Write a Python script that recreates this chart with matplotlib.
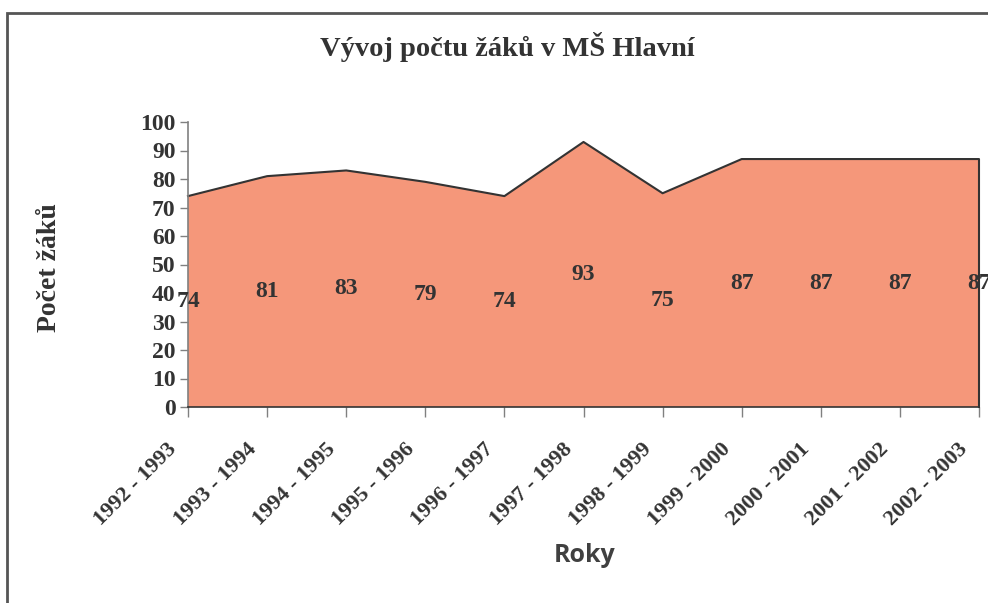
import matplotlib.pyplot as plt
from matplotlib.patches import Rectangle

years = ["1992 - 1993", "1993 - 1994", "1994 - 1995", "1995 - 1996", "1996 - 1997",
         "1997 - 1998", "1998 - 1999", "1999 - 2000", "2000 - 2001", "2001 - 2002",
         "2002 - 2003"]
pupils = [74, 81, 83, 79, 74, 93, 75, 87, 87, 87, 87]

serif = "Liberation Serif"
txt = "#333333"

fig = plt.figure(figsize=(9.88, 6.03), dpi=100)
ax = fig.add_axes([188 / 988, 1 - 407 / 603, (979 - 188) / 988, (407 - 122) / 603])

x = list(range(len(pupils)))
ax.fill_between(x, pupils, 0, facecolor="#F5977A", edgecolor="none")
# outline of the area (top line + right side)
ax.plot(x + [x[-1]], pupils + [0], color="#333333", lw=1.5, clip_on=False)

for i, v in zip(x, pupils):
    ax.text(i, v / 2, str(v), ha="center", va="center", fontsize=17,
            fontweight="bold", family=serif, color=txt)

ax.set_xlim(0, len(pupils) - 1)
ax.set_ylim(0, 100)
ax.set_yticks(range(0, 101, 10))
ax.set_xticks(x)
ax.set_xticklabels([])
# category labels drawn by hand so they sit left of the tick like in Excel
for i, lab in zip(x, years):
    ax.annotate(lab, (i, 0), xycoords=("data", "axes fraction"),
                xytext=(-21, -32), textcoords="offset pixels",
                rotation=45, ha="right", va="top", rotation_mode="anchor",
                fontsize=16, fontweight="bold", family=serif, color=txt,
                annotation_clip=False)
for lab in ax.get_yticklabels():
    lab.set_family(serif)
    lab.set_fontweight("bold")
    lab.set_fontsize(17)
    lab.set_color(txt)
ax.tick_params(axis="x", length=7, width=1, color="#808080")
ax.tick_params(axis="y", length=6, width=1, color="#808080", pad=3)
for s in ["top", "right"]:
    ax.spines[s].set_visible(False)
for s in ["left", "bottom"]:
    ax.spines[s].set_color("#808080")
    ax.spines[s].set_linewidth(1.2)
ax.spines["bottom"].set_color("#333333")

fig.text(507 / 988, 1 - 47 / 603, "Vývoj počtu žáků v MŠ Hlavní", ha="center", va="center",
         fontsize=20.5, fontweight="bold", family=serif, color=txt)
fig.text(50 / 988, 1 - 268 / 603, "Počet žáků", ha="center", va="center", rotation=90,
         fontsize=20, fontweight="bold", family=serif, color=txt)
fig.text(585 / 988, 1 - 556 / 603, "Roky", ha="center", va="center",
         fontsize=18, fontweight="bold", family="Open Sans", color="#404040")

fig.patches.append(Rectangle((7 / 988, -0.1), 1.2, 1 - 13 / 603 + 0.1, transform=fig.transFigure,
                             fill=False, edgecolor="#555555", lw=2))

fig.savefig("out.png", dpi=100)
